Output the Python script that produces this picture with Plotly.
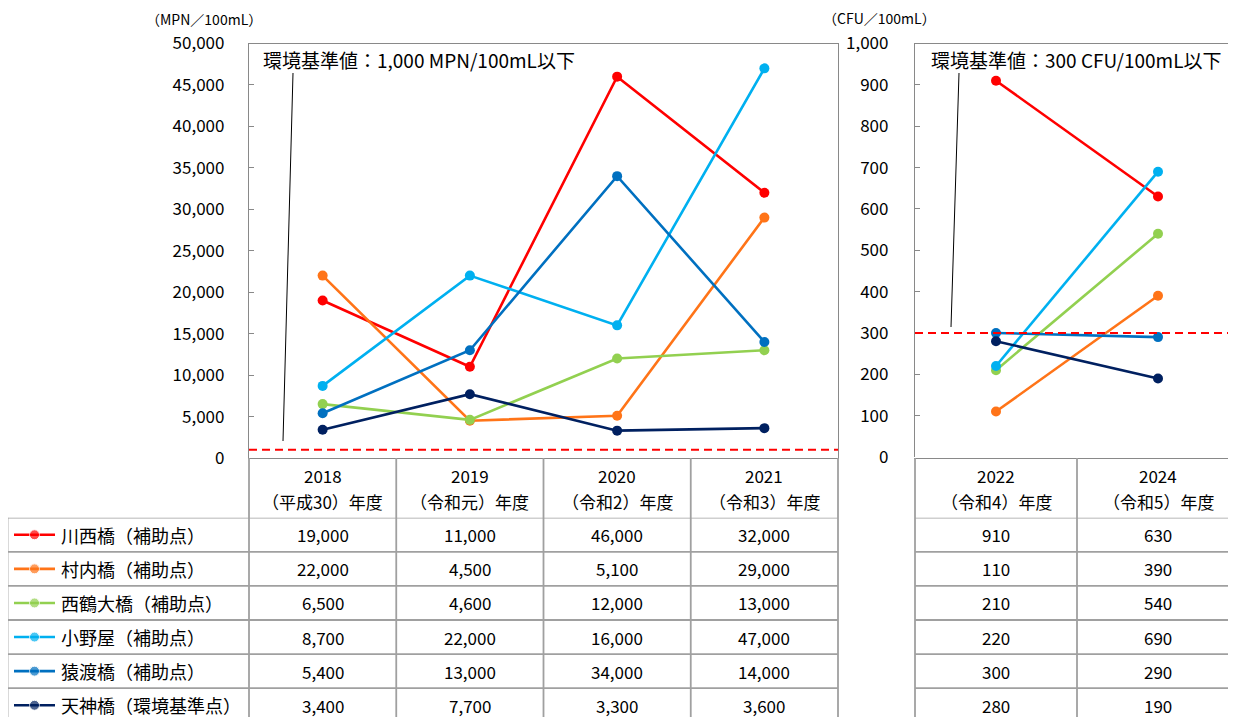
import plotly.graph_objects as go

# ---------------- data ----------------
sites = ["川西橋（補助点）", "村内橋（補助点）", "西鶴大橋（補助点）", "小野屋（補助点）", "猿渡橋（補助点）", "天神橋（環境基準点）"]
colors = ["#FF0000", "#FF7418", "#92D050", "#00B0F0", "#0070C0", "#002060"]

years_left = ["2018", "2019", "2020", "2021"]
era_left = ["（平成30）年度", "（令和元）年度", "（令和2）年度", "（令和3）年度"]
vals_left = [
    [19000, 11000, 46000, 32000],
    [22000, 4500, 5100, 29000],
    [6500, 4600, 12000, 13000],
    [8700, 22000, 16000, 47000],
    [5400, 13000, 34000, 14000],
    [3400, 7700, 3300, 3600],
]

years_right = ["2022", "2024"]
era_right = ["（令和4）年度", "（令和5）年度"]
vals_right = [
    [910, 630],
    [110, 390],
    [210, 540],
    [220, 690],
    [300, 290],
    [280, 190],
]

standard_left = 1000
standard_right = 300
std_text_left = "環境基準値：1,000 MPN/100mL以下"
std_text_right = "環境基準値：300 CFU/100mL以下"
unit_left = "（MPN／100mL）"
unit_right = "（CFU／100mL）"

# ---------------- layout geometry (pixels in the screenshot) ----------------
W, H = 1236, 717
OX, OY = 8, 8          # page (body) offset of the plot div
FONT = "Noto Sans CJK JP"
GRID = "#A0A0A0"
FRAME = "#898989"

def px(x):
    return (x - OX) / W

def py(y):
    return 1 - (y - OY) / H

L_X0, L_X1 = 249, 838
R_X0, R_X1 = 915, 1239
P_TOP, P_BOT = 43.5, 458
HDR_BOT = 517.7
ROW_H = 34.1
LEG_X0 = 7.5
BOTTOM = H + OY  # screenshot y at figure bottom

fig = go.Figure()

for i, name in enumerate(sites):
    fig.add_trace(go.Scatter(
        x=list(range(len(years_left))), y=vals_left[i], mode="lines+markers", name=name,
        line=dict(color=colors[i], width=2.6), marker=dict(color=colors[i], size=10),
        xaxis="x", yaxis="y", showlegend=False, cliponaxis=False))
    fig.add_trace(go.Scatter(
        x=list(range(len(years_right))), y=vals_right[i], mode="lines+markers", name=name,
        line=dict(color=colors[i], width=2.6), marker=dict(color=colors[i], size=10),
        xaxis="x2", yaxis="y2", showlegend=False, cliponaxis=False))

# legend icons in the table (hidden axis x3/y3: row index)
for i, name in enumerate(sites):
    fig.add_trace(go.Scatter(
        x=[14, 34.5, 55], y=[i, i, i], mode="lines+markers",
        line=dict(color=colors[i], width=2.6),
        marker=dict(color=colors[i], size=[0, 10, 0]),
        xaxis="x3", yaxis="y3", showlegend=False, hoverinfo="skip"))

n_rows_visible = (BOTTOM - HDR_BOT) / ROW_H
axis_font = dict(family=FONT, size=17, color="black")
col_w_right = 162.0

fig.update_layout(
    width=W, height=H, margin=dict(l=0, r=0, t=0, b=0, autoexpand=False),
    paper_bgcolor="white", plot_bgcolor="white",
    font=dict(family=FONT, size=17, color="black"),
    xaxis=dict(domain=[px(L_X0), px(L_X1)], range=[-0.5, 3.5], automargin=False,
               showticklabels=False, ticks="", showgrid=False, zeroline=False,
               showline=True, mirror=True, linecolor=FRAME, linewidth=1.3),
    yaxis=dict(domain=[py(P_BOT), py(P_TOP)], range=[0, 50000], automargin=False,
               tickvals=list(range(0, 50001, 5000)), tickformat=",",
               ticks="inside", ticklen=5, tickcolor=FRAME, tickwidth=1.3,
               ticklabelstandoff=20, tickfont=axis_font,
               showgrid=False, zeroline=False,
               showline=True, mirror=True, linecolor=FRAME, linewidth=1.3),
    xaxis2=dict(domain=[px(R_X0), px(R_X1)], automargin=False,
                range=[-0.5, -0.5 + (R_X1 - R_X0) / col_w_right],
                showticklabels=False, ticks="", showgrid=False, zeroline=False,
                showline=True, mirror=True, linecolor=FRAME, linewidth=1.3),
    yaxis2=dict(domain=[py(P_BOT - 1), py(P_TOP)], range=[0, 1000], anchor="x2",
                automargin=False,
                tickvals=list(range(0, 1001, 100)), tickformat=",",
                ticks="inside", ticklen=5, tickcolor=FRAME, tickwidth=1.3,
                ticklabelstandoff=22, tickfont=axis_font,
                showgrid=False, zeroline=False,
                showline=True, mirror=False, linecolor=FRAME, linewidth=1.3),
    xaxis3=dict(domain=[0, px(L_X0)], range=[OX, L_X0], visible=False, anchor="y3",
                automargin=False),
    yaxis3=dict(domain=[0, py(HDR_BOT)], range=[-0.5 + n_rows_visible, -0.5],
                visible=False, anchor="x3", automargin=False),
)

shapes = []
annotations = []

dash = dict(color="#FF0000", width=2, dash="8px,5px")
shapes.append(dict(type="line", xref="x domain", yref="y", x0=0, x1=1,
                   y0=standard_left, y1=standard_left, line=dash))
shapes.append(dict(type="line", xref="x2 domain", yref="y2", x0=0, x1=1,
                   y0=standard_right, y1=standard_right, line=dash))

# leader lines from the notes to the standard lines
shapes.append(dict(type="line", xref="paper", yref="paper",
                   x0=px(293), y0=py(73), x1=px(283), y1=py(441),
                   line=dict(color="black", width=1)))
shapes.append(dict(type="line", xref="paper", yref="paper",
                   x0=px(959), y0=py(73), x1=px(951), y1=py(327),
                   line=dict(color="black", width=1)))

note_font = dict(family=FONT, size=19, color="black")
annotations.append(dict(text=std_text_left, xref="paper", yref="paper",
                        x=px(261), y=py(60), xanchor="left", yanchor="middle",
                        showarrow=False, font=note_font))
annotations.append(dict(text=std_text_right, xref="paper", yref="paper",
                        x=px(929), y=py(59), xanchor="left", yanchor="middle",
                        showarrow=False, font=note_font))
unit_font = dict(family=FONT, size=14, color="black")
annotations.append(dict(text=unit_left, xref="paper", yref="paper",
                        x=px(204), y=py(19), xanchor="center", yanchor="middle",
                        showarrow=False, font=unit_font))
annotations.append(dict(text=unit_right, xref="paper", yref="paper",
                        x=px(880), y=py(18), xanchor="center", yanchor="middle",
                        showarrow=False, font=unit_font))

# ---------------- table grid ----------------
gl = dict(color=GRID, width=1.8)
left_cols = [L_X0 + k * (L_X1 - L_X0) / 4 for k in range(5)]
right_cols = [R_X0, R_X0 + col_w_right]
for xc in left_cols + right_cols:
    shapes.append(dict(type="line", xref="paper", yref="paper",
                       x0=px(xc), x1=px(xc), y0=py(P_BOT), y1=0, line=gl))
shapes.append(dict(type="line", xref="paper", yref="paper",
                   x0=px(LEG_X0), x1=px(LEG_X0), y0=py(HDR_BOT), y1=0, line=gl))
for r in range(len(sites)):
    yb = r - 0.5
    shapes.append(dict(type="line", xref="paper", yref="y3",
                       x0=px(LEG_X0), x1=px(L_X1), y0=yb, y1=yb, line=gl))
    shapes.append(dict(type="line", xref="paper", yref="y3",
                       x0=px(R_X0), x1=1, y0=yb, y1=yb, line=gl))

tf = dict(family=FONT, size=17, color="black")
lf = dict(family=FONT, size=18, color="black")
for k, (yr, era) in enumerate(zip(years_left, era_left)):
    annotations.append(dict(text=yr, xref="x", yref="paper", x=k, y=py(475),
                            yanchor="middle", showarrow=False, font=tf))
    annotations.append(dict(text=era, xref="x", yref="paper", x=k, y=py(501),
                            yanchor="middle", showarrow=False, font=tf))
for k, (yr, era) in enumerate(zip(years_right, era_right)):
    annotations.append(dict(text=yr, xref="x2", yref="paper", x=k, y=py(475),
                            yanchor="middle", showarrow=False, font=tf))
    annotations.append(dict(text=era, xref="x2", yref="paper", x=k, y=py(501),
                            yanchor="middle", showarrow=False, font=tf))

for i, name in enumerate(sites):
    annotations.append(dict(text=name, xref="x3", yref="y3", x=59, y=i,
                            xanchor="left", yanchor="middle", showarrow=False, font=lf))
    for k, v in enumerate(vals_left[i]):
        annotations.append(dict(text=f"{v:,}", xref="x", yref="y3", x=k, y=i,
                                yanchor="middle", showarrow=False, font=tf))
    for k, v in enumerate(vals_right[i]):
        annotations.append(dict(text=f"{v:,}", xref="x2", yref="y3", x=k, y=i,
                                yanchor="middle", showarrow=False, font=tf))

fig.update_layout(shapes=shapes, annotations=annotations)
fig.write_html("out.html")
